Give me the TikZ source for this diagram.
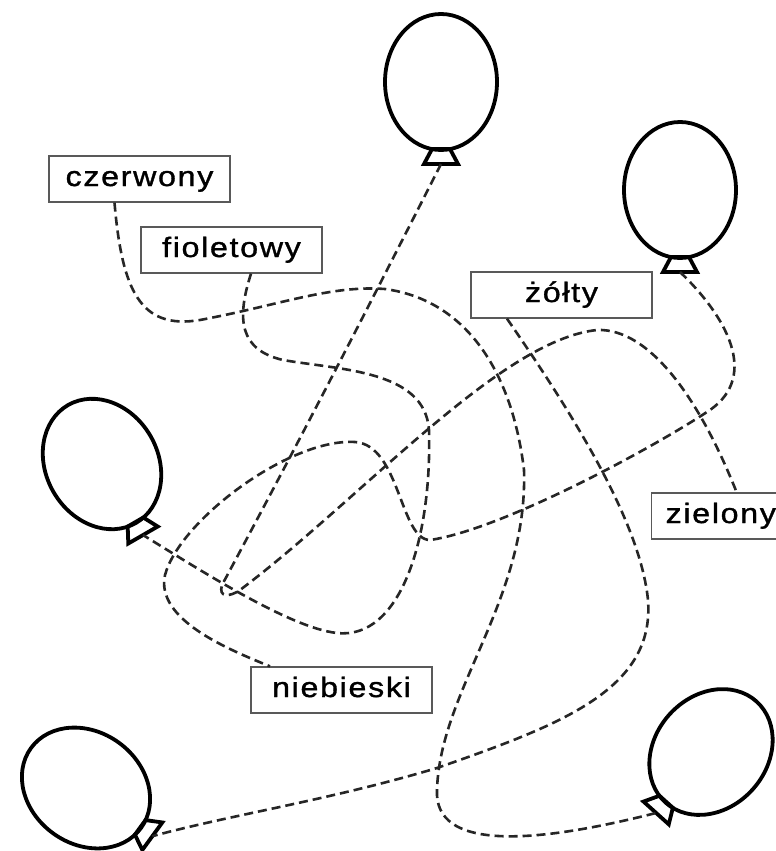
\documentclass[tikz,border=0pt]{standalone}
\usepackage{fontspec}
\newfontfamily\tagfont[LetterSpace=6,FakeStretch=1.15,FakeBold=1.2]{Liberation Sans}
\usetikzlibrary{positioning}

\begin{document}
\begin{tikzpicture}[x=1pt,y=-1pt,line join=miter,
                    balloon/.pic={
                      \draw[skin] (0,0) ellipse [x radius=56, y radius=68];
                      \draw[skin] (-9,67) -- (9,67) -- (17,82) -- (-17,82) -- cycle;
                      \coordinate (-knot) at (0,82);
                    }]
  \tikzstyle{skin}=[line width=3.8pt,black]
  \tikzstyle{thread}=[line width=2.6pt,black!85,dash pattern=on 9pt off 5pt]
  \tikzstyle{tag}=[draw=black!65,line width=1.3pt,fill=white,minimum width=181pt,minimum height=46pt,
                   inner sep=0pt,text height=20pt,text depth=6pt,font=\tagfont\fontsize{28pt}{32pt}\selectfont]

  \useasboundingbox (0,0) rectangle (776,851);

  % balloons
  \pic (top) at (441,82) {balloon};
  \pic (upright) at (680,190) {balloon};
  \pic[rotate=30] (side) at (102,464) {balloon};
  \pic[rotate=54] (lowleft) at (86,788) {balloon};
  \pic[rotate=-42] (lowright) at (711,752) {balloon};

  % labels
  \node[tag] (czerwony)  at (139.5,179) {czerwony};
  \node[tag] (fioletowy) at (231.5,250) {fioletowy};
  \node[tag] (zolty)     at (561.5,295) {żółty};
  \node[tag] (niebieski) at (341.5,690) {niebieski};
  \node[tag,anchor=west,text width=153pt,inner xsep=14pt,align=left] (zielony) at (651,516) {zielony};

  % strings
  \draw[thread] ([xshift=-25pt]czerwony.south) .. controls (122,290) and (140,330) .. (200,320)
    .. controls (280,305) and (330,285) .. (385,289) .. controls (465,300) and (512,370) .. (524,470)
    .. controls (528,600) and (440,690) .. (437,790) .. controls (434,850) and (530,845) .. (lowright-knot);
  \draw[thread] ([xshift=19.5pt]fioletowy.south) .. controls (236,320) and (240,350) .. (283,360)
    .. controls (340,370) and (425,370) .. (429,430) .. controls (432,540) and (400,640) .. (337,633)
    .. controls (290,628) and (200,570) .. (side-knot);
  \draw[thread] (top-knot) .. controls (372,300) and (300,440) .. (222,585)
    .. controls (218,598) and (230,597) .. (240,590) .. controls (360,500) and (500,340) .. (597,330)
    .. controls (650,328) and (700,400) .. ([xshift=-5.5pt]zielony.north);
  \draw[thread] (upright-knot) .. controls (725,315) and (760,375) .. (710,410)
    .. controls (650,450) and (500,530) .. (430,540) .. controls (400,540) and (400,445) .. (355,442)
    .. controls (290,438) and (180,520) .. (165,575) .. controls (155,620) and (230,650) .. ([xshift=-71.5pt]niebieski.north);
  \draw[thread] ([xshift=-54.5pt]zolty.south) .. controls (570,410) and (640,520) .. (648,600)
    .. controls (655,690) and (560,725) .. (437,768) .. controls (330,800) and (230,815) .. (lowleft-knot);
\end{tikzpicture}
\end{document}
